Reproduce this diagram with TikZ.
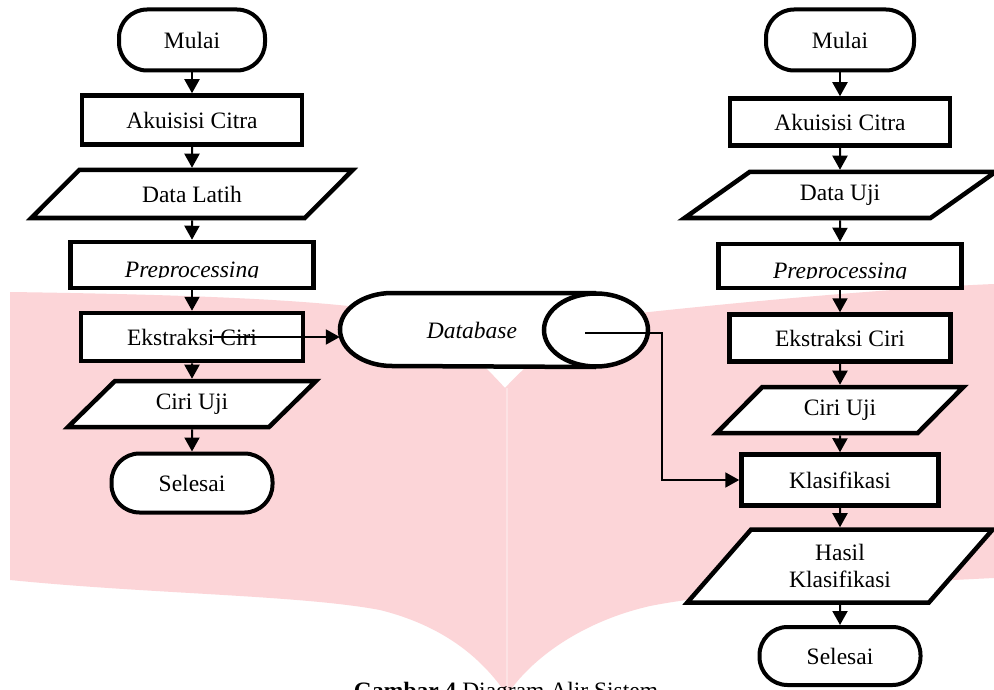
\documentclass[tikz,border=0pt]{standalone}
\usepackage{fontspec}
\setmainfont{Liberation Serif}
\usepackage{trimclip}
\usetikzlibrary{shapes.geometric,arrows.meta,calc}
\definecolor{wmpink}{RGB}{252,213,216}
\definecolor{wmline}{RGB}{252,226,228}
\newcommand{\cutdesc}[1]{\raisebox{0pt}[\dimexpr\height+9pt\relax][0pt]{\clipbox{0pt {\depth} 0pt 0pt}{#1}}}
\begin{document}
\begin{tikzpicture}[x=1pt,y=-1pt,
  base/.style={draw=black, fill=white, align=center, font=\fontsize{23.5}{27}\selectfont, inner sep=0pt},
  proc/.style={base, rectangle, line width=4.5pt},
  term/.style={base, rectangle, rounded corners=28pt, line width=4pt},
  io/.style={base, trapezium, trapezium stretches=true, line width=4.5pt},
  arr/.style={line width=2pt, -{Triangle[width=15pt,length=14pt]}},
  dbshape/.style={draw=black, line width=4.5pt},
]
\path[use as bounding box] (0,0) rectangle (994,690);
\clip (0,0) rectangle (994,690);
\fill[white] (0,0) rectangle (994,690);

% watermark
\fill[wmpink] (10,292) .. controls (150,294) and (300,298) .. (380,310)
  .. controls (440,322) and (470,350) .. (505,388)
  .. controls (540,350) and (580,322) .. (640,313)
  .. controls (760,300) and (900,288) .. (994,284) -- (994,578)
  .. controls (850,585) and (720,592) .. (650,606)
  .. controls (580,622) and (530,660) .. (507,695)
  .. controls (480,655) and (440,625) .. (380,610)
  .. controls (300,595) and (150,594) .. (10,580) -- cycle;
\draw[wmline, line width=1.5pt] (507,388) -- (507,695);

% left column
\node[term, minimum width=146pt, minimum height=61pt] (mulaiL) at (192,40) {Mulai};
\node[proc, minimum width=220pt, minimum height=49pt] (akuL) at (192,120) {Akuisisi Citra};
\node[io, trapezium left angle=38, trapezium right angle=142, minimum width=322pt, minimum height=48pt] (dataL) at (192,194) {Data Latih};
\node[proc, minimum width=243pt, minimum height=46pt] (preL) at (192,265) {\cutdesc{\itshape Preprocessing}};
\node[proc, minimum width=222pt, minimum height=48pt] (ekL) at (192,337) {Ekstraksi Ciri};
\node[io, trapezium left angle=43, trapezium right angle=137, minimum width=248pt, minimum height=46pt] (ciriL) at (192,404) {Ciri Uji};
\node[term, minimum width=161pt, minimum height=59pt] (selL) at (192,483) {Selesai};

% right column
\node[term, minimum width=148pt, minimum height=61pt] (mulaiR) at (840,40) {Mulai};
\node[proc, minimum width=220pt, minimum height=47pt] (akuR) at (840,122) {Akuisisi Citra};
\node[io, trapezium left angle=35.5, trapezium right angle=144.5, minimum width=311pt, minimum height=46pt] (dataR) at (840,195) {Data Uji};
\node[proc, minimum width=243pt, minimum height=44pt] (preR) at (840,266) {\cutdesc{\itshape Preprocessing}};
\node[proc, minimum width=221pt, minimum height=47pt] (ekR) at (840,338) {Ekstraksi Ciri};
\node[io, trapezium left angle=44, trapezium right angle=136, minimum width=247pt, minimum height=46pt] (ciriR) at (840,410) {Ciri Uji};
\node[proc, minimum width=197pt, minimum height=51pt] (klas) at (840,480) {Klasifikasi};
\node[io, trapezium left angle=50, trapezium right angle=130, minimum width=306pt, minimum height=73pt] (hasil) at (840,566) {Hasil\\Klasifikasi};
\node[term, minimum width=161pt, minimum height=58pt] (selR) at (840,656) {Selesai};

% database
\fill[white] (596,293) -- (392,293) arc[start angle=270, end angle=90, x radius=52, y radius=36.5] -- (596,367) -- cycle;
\fill[white] (596,330) ellipse [x radius=52, y radius=36.5];
\draw[dbshape] (596,293) -- (392,293) arc[start angle=270, end angle=90, x radius=52, y radius=36.5] -- (596,367);
\draw[dbshape] (596,330) ellipse [x radius=52, y radius=36.5];
\node[font=\fontsize{23.5}{27}\selectfont\itshape, minimum width=264pt, minimum height=73pt, inner sep=0pt] (db) at (472,330) {Database};

% arrows
\draw[arr] (mulaiL.south) -- (akuL.north);
\draw[arr] (akuL.south) -- (dataL.north);
\draw[arr] (dataL.south) -- (preL.north);
\draw[arr] (preL.south) -- (ekL.north);
\draw[arr] (ekL.south) -- (ciriL.north);
\draw[arr] (ciriL.south) -- (selL.north);

\draw[arr] (mulaiR.south) -- (akuR.north);
\draw[arr] (akuR.south) -- (dataR.north);
\draw[arr] (dataR.south) -- (preR.north);
\draw[arr] (preR.south) -- (ekR.north);
\draw[arr] (ekR.south) -- (ciriR.north);
\draw[arr] (ciriR.south) -- (klas.north);
\draw[arr] (klas.south) -- (hasil.north);
\draw[arr] (hasil.south) -- (selR.north);

\coordinate (s1) at (213,337);
\draw[arr] (s1) -- (s1 -| db.west);
\coordinate (s2) at (585,333);
\coordinate (bend) at (662,333);
\draw[arr] (s2) -- (bend) |- (klas.west);

% caption
\node[font=\fontsize{23.5}{27}\selectfont, anchor=base, inner sep=0pt] (cap) at (506,698) {\textbf{Gambar 4} Diagram Alir Sistem};
\end{tikzpicture}
\end{document}
